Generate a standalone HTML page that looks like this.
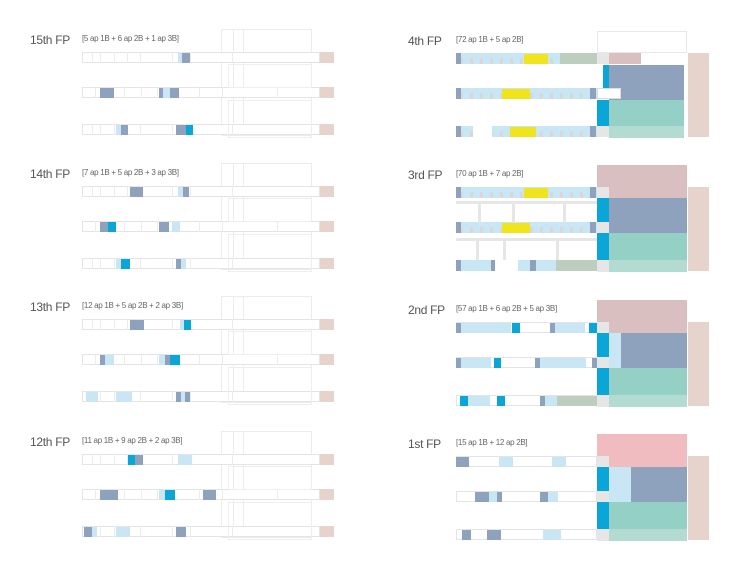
<!DOCTYPE html>
<html><head><meta charset="utf-8"><style>
body{margin:0;width:739px;height:570px;background:#fff;position:relative;overflow:hidden;font-family:"Liberation Sans",sans-serif}
div.a{position:absolute;box-sizing:border-box}
.t{position:absolute;font-size:12px;color:#555;letter-spacing:-0.3px}
.s{position:absolute;font-size:8px;color:#666;letter-spacing:-0.3px}
</style></head><body>
<script>
function R(x,y,w,h,c,b){document.write('<div class="a" style="left:'+x+'px;top:'+y+'px;width:'+w+'px;height:'+h+'px;'+(c?'background:'+c+';':'')+(b?'border:1px solid '+b+';':'')+'"></div>');}
function T(x,y,s,cl){document.write('<div class="'+cl+'" style="left:'+x+'px;top:'+y+'px">'+s+'</div>');}
var D='#8ea2be',L='#c9e6f4',C='#0aa6d8',G='#e6e6e6',BR='#e6d3cc',Y='#f0e41c',GR='#bccfbf',PK='#d9bfc0',BL='#8ea2be',TE='#95d0c6',TL='#b4dbd1';
var LP=[[52,'15th FP','[5 ap 1B + 6 ap 2B + 1 ap 3B]',[[178,4,L],[182,8,D]],[[100,14,D],[159,4,D],[163,7,L],[170,9,D]],[[116,5,L],[121,7,D],[176,10,D],[186,7,C]]],
[186,'14th FP','[7 ap 1B + 5 ap 2B + 3 ap 3B]',[[130,13,D],[178,5,L],[183,6,D]],[[100,8,D],[108,8,C],[159,10,D],[172,8,L]],[[116,5,L],[121,9,C],[176,5,D],[181,5,L]]],
[319,'13th FP','[12 ap 1B + 5 ap 2B + 2 ap 3B]',[[130,14,D],[180,4,L],[184,7,C]],[[100,5,D],[105,9,L],[159,6,L],[165,5,D],[170,10,C]],[[86,12,L],[116,16,L],[176,5,D],[181,4,L],[185,5,D]]],
[454,'12th FP','[11 ap 1B + 9 ap 2B + 2 ap 3B]',[[128,7,C],[135,8,D],[178,14,L]],[[100,18,D],[159,6,L],[165,10,C],[203,13,D]],[[84,8,D],[92,5,L],[116,14,L],[176,10,D]]]];
LP.forEach(function(p){var y=p[0];T(30,y-19,p[1],'t');T(82,y-18,p[2],'s');
R(221,y-23,91,107,null,'#ececec');R(233,y-23,1,107,'#ececec');R(243,y-23,1,107,'#ececec');
[0,35,72].forEach(function(o,i){R(82,y+o,238,11,'#fff','#e4e4e4');
for(var k=0;k<8;k++)R(82+[10,18,32,45,58,90,108,150][k]*(i==1?1.3:1),y+o,1,11,'#ececec');
R(320,y+o,14,11,BR);p[3+i].forEach(function(u){R(u[0],y+o+1,u[1],10,u[2]);});});
R(228,y+12,84,24,null,'#eeeeee');R(228,y+48,84,38,null,'#eeeeee');});
var RP=[[53,'4th FP','[72 ap 1B + 5 ap 2B]'],[187,'3rd FP','[70 ap 1B + 7 ap 2B]'],[322,'2nd FP','[57 ap 1B + 6 ap 2B + 5 ap 3B]'],[456,'1st FP','[15 ap 1B + 12 ap 2B]']];
RP.forEach(function(p,n){var y=p[0];T(408,y-19,p[1],'t');T(456,y-18,p[2],'s');
var rows=[0,35,73];
R(688,y,21,84,BR);
if(n==0){R(597,y-22,90,22,null,'#e8e8e8');}
else R(597,y-22,90,34,n==3?'#f0bcc0':PK);
rows.forEach(function(o,i){
 if(n<2){R(456,y+o,141,11,L);for(var k=0;k<14;k++)R(460+k*10,y+o+5,3,6,'#d8d8d8');R(456,y+o,5,11,D);R(590,y+o,6,11,D);
  R([524,502,510][i],y+o+1,[24,28,26][i],10,Y);}
 else{R(456,y+o,141,11,'#fff','#e4e4e4');}
 R(597,y+o,12,11,G);});
if(n==0){R(560,y,37,11,GR);R(609,y,32,11,PK);R(609,y+12,75,35,BL);R(603,y+12,6,23,C);R(597,y+47,12,26,C);R(609,y+47,75,26,TE);R(609,y+73,75,12,TL);R(597,y+35,24,11,'#fff','#ddd');R(621,y+35,63,11,BL);R(473,y+73,19,11,'#fff');}
else{R(597,y+11,12,24,C);R(597,y+46,12,27,C);R(609,y+11,78,35,BL);R(609,y+46,78,27,TE);R(597,y+73,90,12,TL);R(597,y+73,12,12,G);R(597,y+35,12,11,G);
 if(n==1){R(456,y+73,141,11,L);R(493,y+73,25,11,'#fff');R(456,y+73,5,11,D);R(491,y+73,4,11,D);R(530,y+73,6,11,D);R(556,y+73,41,11,GR);
  R(456,y+14,141,3,G);R(456,y+51,141,3,G);[478,512,563].forEach(function(x){R(x,y+14,3,22,G);});[476,503,556].forEach(function(x){R(x,y+51,3,22,G);});}
 if(n==2){R(609,y+11,12,35,L);
  [[456,5,D],[461,50,L],[512,8,C],[550,5,D],[555,30,L],[589,8,C]].forEach(function(u){R(u[0],y+1,u[1],10,u[2]);});
  [[456,5,D],[461,30,L],[494,7,C],[535,5,D],[540,46,L],[592,5,D]].forEach(function(u){R(u[0],y+36,u[1],10,u[2]);});
  [[460,8,C],[468,22,L],[497,8,C],[540,5,D],[545,12,L],[557,40,GR]].forEach(function(u){R(u[0],y+74,u[1],10,u[2]);});}
 if(n==3){R(609,y+11,22,35,L);
  [[456,13,D],[499,14,L],[552,14,L]].forEach(function(u){R(u[0],y+1,u[1],10,u[2]);});
  [[475,14,D],[489,8,L],[497,5,D],[540,8,D],[548,10,L]].forEach(function(u){R(u[0],y+36,u[1],10,u[2]);});
  [[462,9,D],[487,14,D],[543,18,L]].forEach(function(u){R(u[0],y+74,u[1],10,u[2]);});}}
});
</script>
</body></html>
